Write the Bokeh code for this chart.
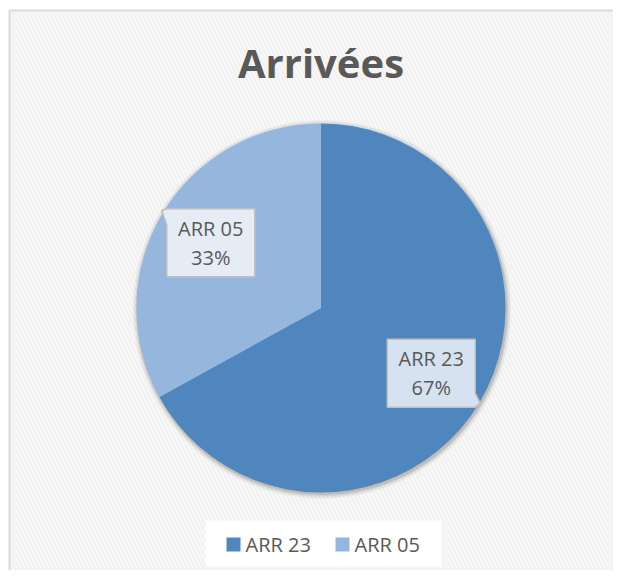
import numpy as np
from bokeh.plotting import figure
from bokeh.models import Range1d, ColumnDataSource
from bokeh.core.properties import value
from bokeh.embed import file_html
from bokeh.resources import INLINE

# ---- data ----
title = "Arrivées"
categories = ["ARR 23", "ARR 05"]
values = [67, 33]
colors = ["#4F86BE", "#95B6DD"]
label_fills = ["#D6E2F0", "#E5ECF6"]

TXT = "#595959"
FONT = "Open Sans"

W, H = 613, 570


def Y(yp):
    # image y (from top) -> data y (from bottom)
    return H - yp


p = figure(width=W, height=H, x_range=Range1d(0, W), y_range=Range1d(0, H),
           output_backend="svg", toolbar_location=None, min_border=0)
p.axis.visible = False
p.grid.visible = False
p.outline_line_color = None
p.background_fill_color = "white"
p.border_fill_color = "white"

# hatched chart area
p.quad(left=[9], right=[660], bottom=[-20], top=[Y(10)], fill_color="white",
       hatch_pattern="left_diagonal_line", hatch_color="#f2f2f2", hatch_scale=8,
       hatch_weight=3, line_color="#d9d9d9", line_width=2)

# ---- pie ----
cx, cy, r = 320.5, Y(307.5), 184.5
vals = np.array(values, dtype=float)
frac = vals / vals.sum()
cum = np.concatenate([[0], np.cumsum(frac)]) * 2 * np.pi
start = np.pi / 2 - cum[:-1]
end = np.pi / 2 - cum[1:]

# soft shadow
for dr, a in [(5, 0.03), (3.5, 0.05), (2, 0.07), (1, 0.09)]:
    p.circle(x=[cx + 1], y=[cy - 1.5], radius=r + dr, fill_color="black", fill_alpha=a,
             line_color=None)

src = ColumnDataSource(dict(start=start, end=end, color=colors, cat=categories))
p.wedge(x=cx, y=cy, radius=r, start_angle="start", end_angle="end", direction="clock",
        fill_color="color", line_color=None, source=src)

# ---- data labels (callouts) ----
mid = (cum[:-1] + cum[1:]) / 2  # clockwise from top
d = 0.694 * r
lx = cx + d * np.sin(mid)
ly = cy + d * np.cos(mid)
bw, bh = 88, 68
pct = [f"{int(round(f * 100))}%" for f in frac]

for i in range(len(categories)):
    x0, x1 = lx[i] - bw / 2, lx[i] + bw / 2
    y0, y1 = ly[i] - bh / 2, ly[i] + bh / 2
    if np.sin(mid[i]) > 0:
        # tail at bottom-right
        xs = [x0, x1, x1, x1 + 5, x1, x0]
        ys = [y1, y1, y0 + 14, y0 + 4, y0, y0]
    else:
        # tail at top-left
        xs = [x0, x0, x0 - 5, x0, x1, x1]
        ys = [y0, y1 - 16, y1 - 2, y1, y1, y0]
    p.patch(x=xs, y=ys, fill_color=label_fills[i], line_color="#bfbfbf", line_width=1.5)
    p.text(x=[lx[i]], y=[ly[i] + 14.5], text=[categories[i]], text_font=value(FONT),
           text_font_size="20px", text_color=TXT, text_align="center",
           text_baseline="middle")
    p.text(x=[lx[i]], y=[ly[i] - 14.5], text=[pct[i]], text_font=value(FONT),
           text_font_size="20px", text_color=TXT, text_align="center",
           text_baseline="middle")

# ---- title ----
p.text(x=[cx], y=[Y(62)], text=[title], text_font=value(FONT), text_font_style="bold",
       text_font_size="40px", text_color=TXT, text_align="center", text_baseline="middle")

# ---- legend ----
p.quad(left=[205], right=[441], bottom=[Y(566)], top=[Y(520)], fill_color="white",
       line_color=None)
leg_x = [226, 335]
for i in range(len(categories)):
    p.quad(left=[leg_x[i]], right=[leg_x[i] + 14], bottom=[Y(551)], top=[Y(537)],
           fill_color=colors[i], line_color=None)
    p.text(x=[leg_x[i] + 19], y=[Y(544)], text=[categories[i]], text_font=value(FONT),
           text_font_size="20px", text_color=TXT, text_align="left",
           text_baseline="middle")

open("out.html", "w").write(file_html(p, INLINE))
